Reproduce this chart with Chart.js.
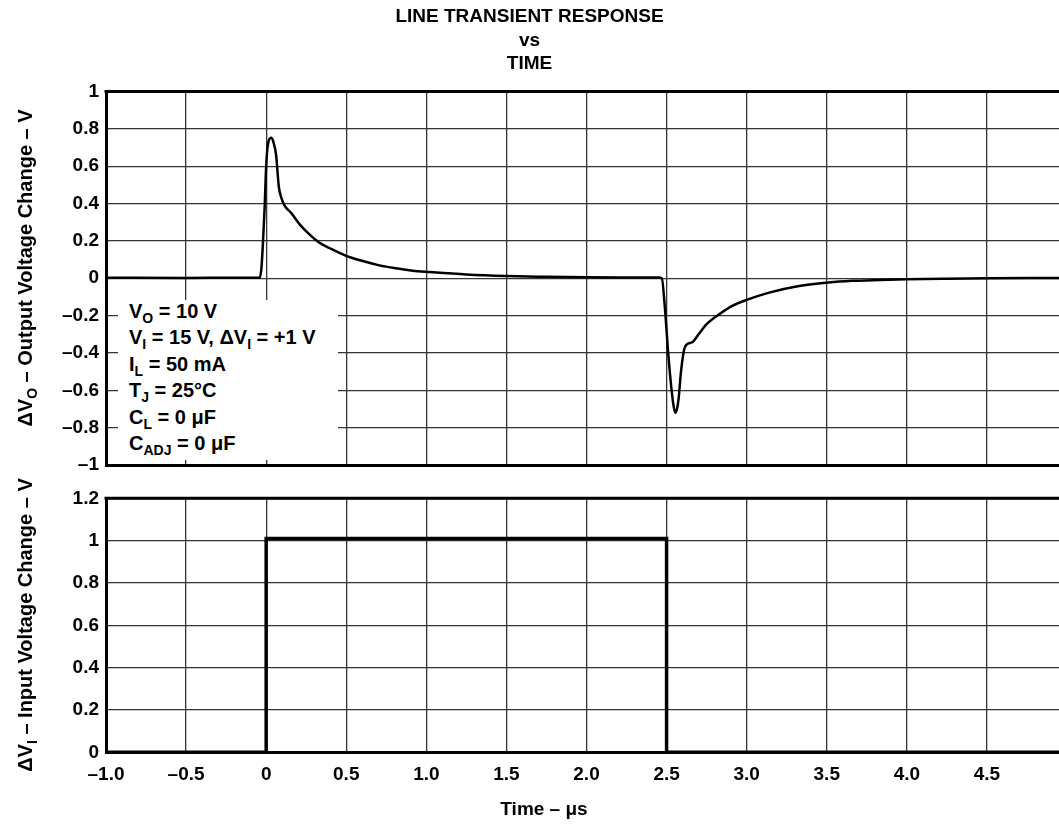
<!DOCTYPE html>
<html>
<head>
<meta charset="utf-8">
<script src="https://cdn.jsdelivr.net/npm/chart.js@4.4.1/dist/chart.umd.min.js"></script>
<style>
body{margin:0;background:#fff}
#wrap{position:relative;width:1059px;height:825px;overflow:hidden;font-family:"Liberation Sans",Arial,Helvetica,sans-serif;font-weight:bold;color:#000}
#top{position:absolute;left:0;top:0;width:1059px;height:485px}
#bot{position:absolute;left:0;top:470px;width:1059px;height:355px}
.ytitle{position:absolute;font-size:20px;white-space:nowrap;transform:translate(-50%,-50%) rotate(-90deg);line-height:1}
.ytitle sub{font-size:14px;vertical-align:-5px;line-height:0}
#note{position:absolute;left:118px;top:300px;width:220px;height:160px;background:#fff;font-size:20px;line-height:26.4px;padding-left:11px;box-sizing:border-box}
#note div{white-space:nowrap}
#note sub{font-size:14px;vertical-align:-5px;line-height:0}
#xtitle{position:absolute;left:544px;top:809px;transform:translate(-50%,-50%);font-size:19px;white-space:nowrap}
</style>
</head>
<body>
<div id="wrap">
<div id="top"><canvas id="graficoTopo"></canvas></div>
<div id="bot"><canvas id="graficoBase"></canvas></div>
<div class="ytitle" style="left:25px;top:268px">ΔV<sub>O</sub> – Output Voltage Change – V</div>
<div class="ytitle" style="left:25px;top:625px">ΔV<sub>I</sub> – Input Voltage Change – V</div>
<div id="note">
<div style="margin-top:-2px">V<sub>O</sub> = 10 V</div>
<div>V<sub>I</sub> = 15 V, ΔV<sub>I</sub> = +1 V</div>
<div>I<sub>L</sub> = 50 mA</div>
<div>T<sub>J</sub> = 25°C</div>
<div>C<sub>L</sub> = 0 μF</div>
<div>C<sub>ADJ</sub> = 0 μF</div>
</div>
<div id="xtitle">Time – μs</div>
</div>
<script>

/* DADOS */

const tSaida=[-1.0,-0.5,-0.2,-0.04,-0.03,-0.02,-0.01,0.0,0.01,0.031,0.045,0.062,0.079,0.095,0.114,0.156,0.208,0.27,0.333,0.395,0.5,0.603,0.707,0.81,0.915,1.02,1.25,1.5,1.75,2.0,2.25,2.45,2.47,2.49,2.51,2.53,2.545,2.555,2.565,2.575,2.59,2.61,2.63,2.66,2.70,2.75,2.83,2.91,3.0,3.14,3.31,3.51,3.66,3.83,4.0,4.25,4.5,4.95]
const vSaida=[0.003,0.002,0.003,0.003,0.05,0.19,0.37,0.60,0.71,0.752,0.73,0.66,0.49,0.43,0.39,0.35,0.29,0.235,0.19,0.162,0.12,0.092,0.069,0.053,0.04,0.033,0.02,0.012,0.008,0.005,0.004,0.004,0.0,-0.165,-0.40,-0.59,-0.69,-0.72,-0.70,-0.646,-0.50,-0.38,-0.352,-0.343,-0.30,-0.246,-0.192,-0.148,-0.116,-0.077,-0.044,-0.023,-0.014,-0.009,-0.005,-0.002,0.0,0.002]

const tEntrada=[-1.0,0,0,2.5,2.5,4.95]
const vEntrada=[0,0,1.01,1.01,0,0]

const xTicks=[-1.0,-0.5,0,0.5,1.0,1.5,2.0,2.5,3.0,3.5,4.0,4.5]
const yTicksTopo=[-1,-0.8,-0.6,-0.4,-0.2,0,0.2,0.4,0.6,0.8,1]
const yTicksBase=[0,0.2,0.4,0.6,0.8,1,1.2]
const titulo=["LINE TRANSIENT RESPONSE","vs","TIME"]

/* ESTILO */

const fonte="'Liberation Sans', Arial, Helvetica, sans-serif"
const grade={color:"#333",lineWidth:1.3,drawTicks:false}
const borda={display:true,color:"#000",width:3}

function rotulo(v){
if(v===0) return "0"
return String(v).replace("-","\u2013")
}
function rotuloX(v){
if(v===0) return "0"
return v.toFixed(1).replace("-","\u2013")
}

/* borda de cima */
const bordaTopo={
id:"bordaTopo",
afterDraw(chart){
const a=chart.chartArea
const c=chart.ctx
c.save()
c.strokeStyle="#000"
c.lineWidth=3
c.beginPath()
c.moveTo(a.left-1.5,a.top)
c.lineTo(a.right,a.top)
c.stroke()
c.restore()
}
}

/* GRÁFICO SAÍDA */

new Chart(document.getElementById("graficoTopo"),{
type:"scatter",
data:{
datasets:[{
data:tSaida.map((t,i)=>({x:t,y:vSaida[i]})),
showLine:true,
borderColor:"#000",
borderWidth:2.5,
pointRadius:0,
cubicInterpolationMode:"monotone"
}]
},
options:{
responsive:true,
maintainAspectRatio:false,
animation:false,
layout:{padding:0},
plugins:{
legend:{display:false},
tooltip:{enabled:false},
title:{
display:true,
text:titulo,
color:"#000",
font:{family:fonte,size:19,weight:"bold",lineHeight:1.237},
padding:{top:5.25,bottom:15.75}
}
},
scales:{
x:{
type:"linear",
min:-1.0,
max:4.95,
afterBuildTicks:s=>{s.ticks=xTicks.map(v=>({value:v}))},
afterFit:s=>{s.height=20},
ticks:{display:false},
grid:grade,
border:borda
},
y:{
min:-1,
max:1,
afterBuildTicks:s=>{s.ticks=yTicksTopo.map(v=>({value:v}))},
afterFit:s=>{s.width=106},
ticks:{color:"#000",padding:7,font:{family:fonte,size:19,weight:"bold"},callback:v=>rotulo(v)},
grid:grade,
border:borda
}
}
},
plugins:[bordaTopo]
})

/* GRÁFICO ENTRADA */

new Chart(document.getElementById("graficoBase"),{
type:"scatter",
data:{
datasets:[{
data:tEntrada.map((t,i)=>({x:t,y:vEntrada[i]})),
showLine:true,
borderColor:"#000",
borderWidth:3.5,
pointRadius:0,
tension:0
}]
},
options:{
responsive:true,
maintainAspectRatio:false,
animation:false,
layout:{padding:{top:28.3,left:0,right:0,bottom:0}},
plugins:{
legend:{display:false},
tooltip:{enabled:false}
},
scales:{
x:{
type:"linear",
min:-1.0,
max:4.95,
afterBuildTicks:s=>{s.ticks=xTicks.map(v=>({value:v}))},
afterFit:s=>{s.height=72.7},
ticks:{color:"#000",padding:11,maxRotation:0,font:{family:fonte,size:19,weight:"bold"},callback:v=>rotuloX(v)},
grid:grade,
border:borda
},
y:{
min:0,
max:1.2,
afterBuildTicks:s=>{s.ticks=yTicksBase.map(v=>({value:v}))},
afterFit:s=>{s.width=106},
ticks:{color:"#000",padding:7,font:{family:fonte,size:19,weight:"bold"},callback:v=>rotulo(v)},
grid:grade,
border:borda
}
}
},
plugins:[bordaTopo]
})

</script>
</body>
</html>
